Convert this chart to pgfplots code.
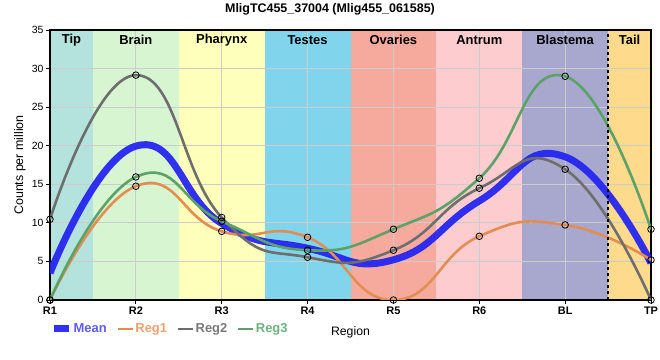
\documentclass[border=0pt]{standalone}
\usepackage{pgfplots}
\pgfplotsset{compat=1.18}
\usepackage{fontspec}
\setmainfont{Liberation Sans}
\definecolor{cTip}{RGB}{180,226,221}
\definecolor{cBrain}{RGB}{216,245,210}
\definecolor{cPhar}{RGB}{255,255,188}
\definecolor{cTest}{RGB}{128,212,236}
\definecolor{cOva}{RGB}{245,170,157}
\definecolor{cAnt}{RGB}{253,204,206}
\definecolor{cBla}{RGB}{168,168,206}
\definecolor{cTail}{RGB}{254,218,140}
\definecolor{gridgray}{RGB}{204,204,204}
\definecolor{meanblue}{RGB}{38,38,242}
\definecolor{reg1}{RGB}{226,142,82}
\definecolor{reg2}{RGB}{110,110,110}
\definecolor{reg3}{RGB}{92,162,104}
\definecolor{tmean}{RGB}{92,92,250}
\definecolor{treg1}{RGB}{236,160,112}
\definecolor{treg2}{RGB}{120,120,120}
\definecolor{treg3}{RGB}{110,178,122}
\begin{document}
\begin{tikzpicture}
\node[font=\bfseries\fontsize{12.5}{14}\selectfont] at (330bp,351bp) {MligTC455\_37004 (Mlig455\_061585)};
\begin{axis}[
  at={(50bp,60bp)}, anchor=south west,
  scale only axis, width=601bp, height=270bp,
  xmin=0, xmax=7, ymin=0, ymax=35,
  xtick={0,...,7}, xticklabels={R1,R2,R3,R4,R5,R6,BL,TP},
  ytick={0,5,...,35},
  xtick pos=left, ytick pos=left,
  tick align=outside, major tick length=4bp,
  tick style={black, line width=0.8bp},
  grid=major, grid style={color=gridgray, line width=0.8bp},
  axis line style={black, line width=1.2bp},
  set layers,
  /pgf/number format/assume math mode=true,
  yticklabel style={font=\fontsize{10.5}{12}\selectfont, xshift=1bp},
  xticklabel style={font=\bfseries\fontsize{11}{13}\selectfont, yshift=1bp},
  ylabel={Counts per million},
  ylabel style={font=\fontsize{12.5}{14}\selectfont, at={(axis description cs:-0.05,0.5)}, anchor=center},
  xlabel={Region},
  xlabel style={font=\fontsize{12.3}{14}\selectfont, at={(axis description cs:0.5,-0.118)}, anchor=center},
  legend columns=4,
  legend style={at={(axis description cs:0.0,-0.107)}, anchor=west, draw=none, fill=none,
    font=\bfseries\fontsize{13}{15}\selectfont, inner sep=0pt,
    /tikz/every even column/.append style={column sep=8bp},
    nodes={inner sep=1.5bp}},
  legend image code/.code={\draw[#1] (0bp,0bp) -- (15bp,0bp);},
  every axis plot/.append style={tension=0.85},
]
% background bands
\addplot[on layer=axis background, fill=cTip, draw=none, forget plot] coordinates {(0,35) (0.5,35)} \closedcycle;
\addplot[on layer=axis background, fill=cBrain, draw=none, forget plot] coordinates {(0.5,35) (1.5,35)} \closedcycle;
\addplot[on layer=axis background, fill=cPhar, draw=none, forget plot] coordinates {(1.5,35) (2.5,35)} \closedcycle;
\addplot[on layer=axis background, fill=cTest, draw=none, forget plot] coordinates {(2.5,35) (3.5,35)} \closedcycle;
\addplot[on layer=axis background, fill=cOva, draw=none, forget plot] coordinates {(3.5,35) (4.5,35)} \closedcycle;
\addplot[on layer=axis background, fill=cAnt, draw=none, forget plot] coordinates {(4.5,35) (5.5,35)} \closedcycle;
\addplot[on layer=axis background, fill=cBla, draw=none, forget plot] coordinates {(5.5,35) (6.5,35)} \closedcycle;
\addplot[on layer=axis background, fill=cTail, draw=none, forget plot] coordinates {(6.5,35) (7,35)} \closedcycle;
% series
\addplot[meanblue, line width=7bp, smooth, opacity=0.95] coordinates {
 (0,3.49) (1,19.95) (2,9.93) (3,6.71) (4,5.21) (5,12.84) (6,18.56) (7,4.8)};
\addlegendentry{\textcolor{tmean}{Mean}}
\addplot[reg1, line width=2.6bp, smooth] coordinates {
 (0,0) (1,14.75) (2,8.9) (3,8.13) (4,0) (5,8.26) (6,9.73) (7,5.2)};
\addlegendentry{\textcolor{treg1}{Reg1}}
\addplot[reg2, line width=2.6bp, smooth] coordinates {
 (0,10.46) (1,29.15) (2,10.7) (3,5.54) (4,6.45) (5,14.49) (6,16.95) (7,0)};
\addlegendentry{\textcolor{treg2}{Reg2}}
\addplot[reg3, line width=2.6bp, smooth] coordinates {
 (0,0) (1,15.95) (2,10.2) (3,6.45) (4,9.17) (5,15.78) (6,29.0) (7,9.17)};
\addlegendentry{\textcolor{treg3}{Reg3}}
% divider
\addplot[black, dashed, line width=1.6bp, forget plot] coordinates {(6.5,0) (6.5,35)};
% markers
\addplot[only marks, mark=o, mark size=3.3bp, mark options={black, line width=0.8bp}, forget plot] coordinates {
 (0,0) (1,14.75) (2,8.9) (3,8.13) (4,0) (5,8.26) (6,9.73) (7,5.2)};
\addplot[only marks, mark=o, mark size=3.3bp, mark options={black, line width=0.8bp}, forget plot] coordinates {
 (0,10.46) (1,29.15) (2,10.7) (3,5.54) (4,6.45) (5,14.49) (6,16.95) (7,0)};
\addplot[only marks, mark=o, mark size=3.3bp, mark options={black, line width=0.8bp}, forget plot] coordinates {
 (0,0) (1,15.95) (2,10.2) (3,6.45) (4,9.17) (5,15.78) (6,29.0) (7,9.17)};
% region labels
\begin{scope}[every node/.style={font=\bfseries\fontsize{13}{15}\selectfont}]
\node at (axis cs:0.25,33.7) {Tip};
\node at (axis cs:1,33.7) {Brain};
\node at (axis cs:2,33.7) {Pharynx};
\node at (axis cs:3,33.7) {Testes};
\node at (axis cs:4,33.7) {Ovaries};
\node at (axis cs:5,33.7) {Antrum};
\node at (axis cs:6,33.7) {Blastema};
\node at (axis cs:6.75,33.7) {Tail};
\end{scope}
\end{axis}
\pgfresetboundingbox
\path[use as bounding box] (0,0) rectangle (660bp,360bp);
\end{tikzpicture}
\end{document}
